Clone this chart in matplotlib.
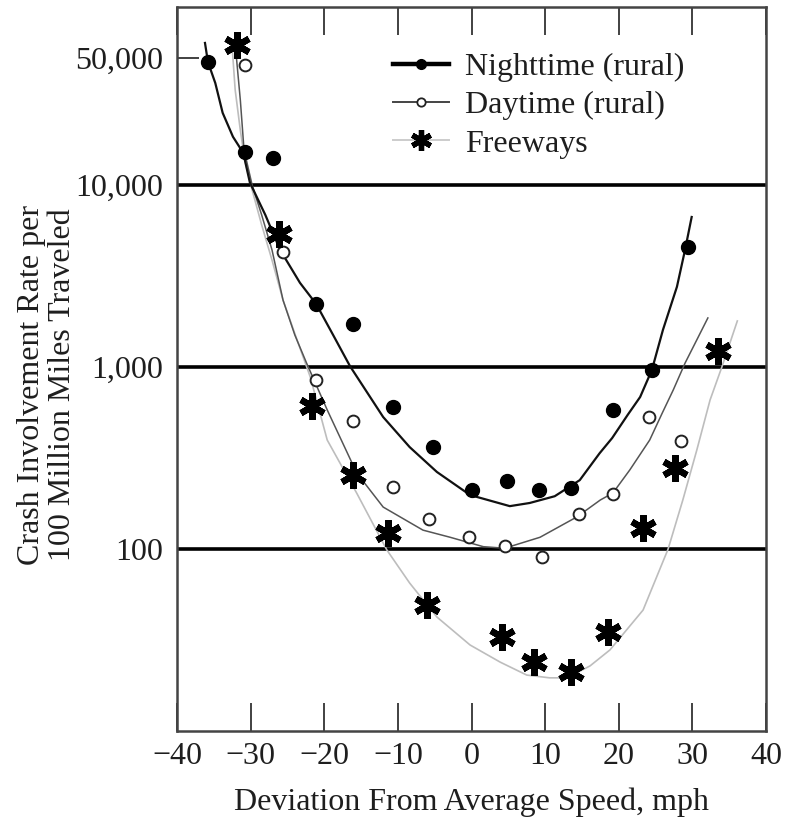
import matplotlib
matplotlib.use("Agg")
import matplotlib.pyplot as plt
from matplotlib.lines import Line2D
from matplotlib.markers import MarkerStyle
from matplotlib.ticker import FixedLocator, FuncFormatter, NullFormatter

# --- DATA ---
night_x = [-35.8, -30.8, -27.0, -21.1, -16.1, -10.7, -5.2, 0.1, 4.8, 9.2, 13.5, 19.2, 24.5, 29.4]
night_y = [47400, 15200, 14100, 2220, 1720, 603, 363, 211, 237, 211, 216, 581, 964, 4560]

day_x = [-30.8, -25.6, -21.1, -16.1, -10.7, -5.8, -0.4, 4.6, 9.6, 14.6, 19.2, 24.1, 28.5]
day_y = [45600, 4280, 849, 505, 219, 146, 116, 104, 90, 156, 200, 531, 392]

fwy_x = [-31.9, -26.1, -21.7, -16.1, -11.3, -6.0, 4.1, 8.5, 13.5, 18.5, 23.3, 27.6, 33.5]
fwy_y = [58800, 5380, 611, 255, 122, 49, 32.8, 23.9, 21.1, 35.0, 130, 279, 1225]

# fitted curves as drawn in the figure
night_fit_x = [-36.2, -35.8, -34.8, -33.8, -32.4, -31.0, -30.1, -28.0, -26.0, -23.3, -21.1,
               -18.8, -16.5, -12.0, -8.4, -4.7, -0.2, 5.2, 7.9, 11.3, 14.7, 17.4, 19.1,
               21.2, 22.9, 24.5, 26.0, 27.9, 29.0, 29.9]
night_fit_y = [60300, 47400, 36300, 24900, 18400, 15000, 10300, 6840, 4400, 2900, 2220,
               1500, 1010, 531, 363, 265, 198, 172, 179, 195, 239, 336, 407,
               545, 684, 964, 1600, 2760, 4400, 6670]

day_fit_x = [-32.0, -31.4, -30.9, -29.8, -28.5, -27.1, -25.6, -24.0, -22.4, -19.6, -15.6,
             -12.0, -6.6, -2.9, 1.6, 4.5, 9.3, 14.3, 17.5, 19.2, 21.5, 24.2, 25.9,
             27.4, 29.0, 30.6, 32.1]
day_fit_y = [53800, 29300, 15600, 10000, 6840, 4400, 2330, 1500, 1050, 581, 262,
             170, 127, 116, 103, 101, 116, 150, 186, 203, 272, 397, 558,
             748, 1050, 1410, 1860]

fwy_fit_x = [-32.5, -32.1, -31.4, -30.8, -29.8, -28.5, -27.1, -25.6, -23.7, -21.9, -19.6,
             -15.6, -11.5, -8.4, -4.7, -0.2, 3.9, 7.5, 10.6, 13.0, 16.1, 18.8, 23.3,
             26.7, 28.7, 30.6, 32.4, 34.0, 36.1]
fwy_fit_y = [56600, 33300, 20000, 13700, 9400, 6030, 3870, 2330, 1410, 881, 397,
             203, 98.8, 65, 42.3, 29.7, 23.9, 20.3, 19.6, 19.6, 22.8, 27.9, 46.2,
             100, 186, 350, 659, 1000, 1790]

x_ticks = [-40, -30, -20, -10, 0, 10, 20, 30, 40]
grid_levels = [100, 1000, 10000]
extra_tick = [50000]
labels = ["Nighttime (rural)", "Daytime (rural)", "Freeways"]

# --- STYLE ---
plt.rcParams["font.family"] = ["Liberation Serif", "DejaVu Serif"]
txt = "#1e1e1e"
fs = 23

fig = plt.figure(figsize=(7.86, 8.25), dpi=100)
ax = fig.add_axes([0.2252, 0.1139, 0.7494, 0.8776])
ax.set_yscale("log")
ax.set_xlim(-40, 40)
ax.set_ylim(10, 95000)

# horizontal reference lines
ax.yaxis.set_major_locator(FixedLocator(grid_levels))
ax.yaxis.set_major_formatter(FuncFormatter(lambda v, p: f"{int(v):,}"))
ax.yaxis.set_minor_locator(FixedLocator(extra_tick))
ax.yaxis.set_minor_formatter(FuncFormatter(lambda v, p: f"{int(v):,}"))
ax.grid(True, which="major", axis="y", color="black", lw=2.6)
ax.tick_params(axis="y", which="major", length=0, pad=10, labelsize=fs, labelcolor=txt)
ax.tick_params(axis="y", which="minor", length=16, width=1.3, direction="in",
               pad=10, labelsize=fs, labelcolor=txt, color="#333333")

ax.set_xticks(x_ticks)
ax.xaxis.set_minor_formatter(NullFormatter())
ax.tick_params(axis="x", which="major", direction="in", top=True, length=20, width=1.3,
               color="#333333", pad=8, labelsize=fs, labelcolor=txt)

for s in ax.spines.values():
    s.set_linewidth(1.8)
    s.set_color("#444444")

# curves
ax.plot(fwy_fit_x, fwy_fit_y, color="#bdbdbd", lw=1.2, zorder=3)
ax.plot(day_fit_x, day_fit_y, color="#555555", lw=1.1, zorder=3)
ax.plot(night_fit_x, night_fit_y, color="#111111", lw=1.6, zorder=3)

# data points
star = MarkerStyle((6, 2, 0), capstyle="round")
ax.plot(night_x, night_y, "o", color="black", ms=10, zorder=5)
ax.plot(day_x, day_y, "o", mfc="white", mec="#222222", mew=1.4, ms=8.5, zorder=5)
ax.plot(fwy_x, fwy_y, linestyle="none", marker=star, color="black", ms=19, mew=4.6, zorder=6)

ax.set_xlabel("Deviation From Average Speed, mph", fontsize=fs, color=txt, labelpad=12)
fig.text(47 / 786, 1 - 385 / 825, "Crash Involvement Rate per\n100 Million Miles Traveled",
         rotation=90, ha="center", va="center", multialignment="center",
         fontsize=fs, color=txt, linespacing=1.12)

handles = [
    Line2D([], [], color="black", lw=3.2, marker="o", ms=7),
    Line2D([], [], color="#444444", lw=1.4, marker="o", ms=6, mfc="white", mec="#222222", mew=1.3),
    Line2D([], [], color="#cccccc", lw=1.4, marker=star, ms=15, mew=3.8, mec="black"),
]
leg = ax.legend(handles, labels, loc="upper left", bbox_to_anchor=(0.367, 0.937),
                frameon=False, fontsize=fs, handlelength=1.75, handletextpad=0.5,
                labelspacing=0.28, borderpad=0, borderaxespad=0)
for t in leg.get_texts():
    t.set_color(txt)

fig.savefig("out.png", dpi=100)
